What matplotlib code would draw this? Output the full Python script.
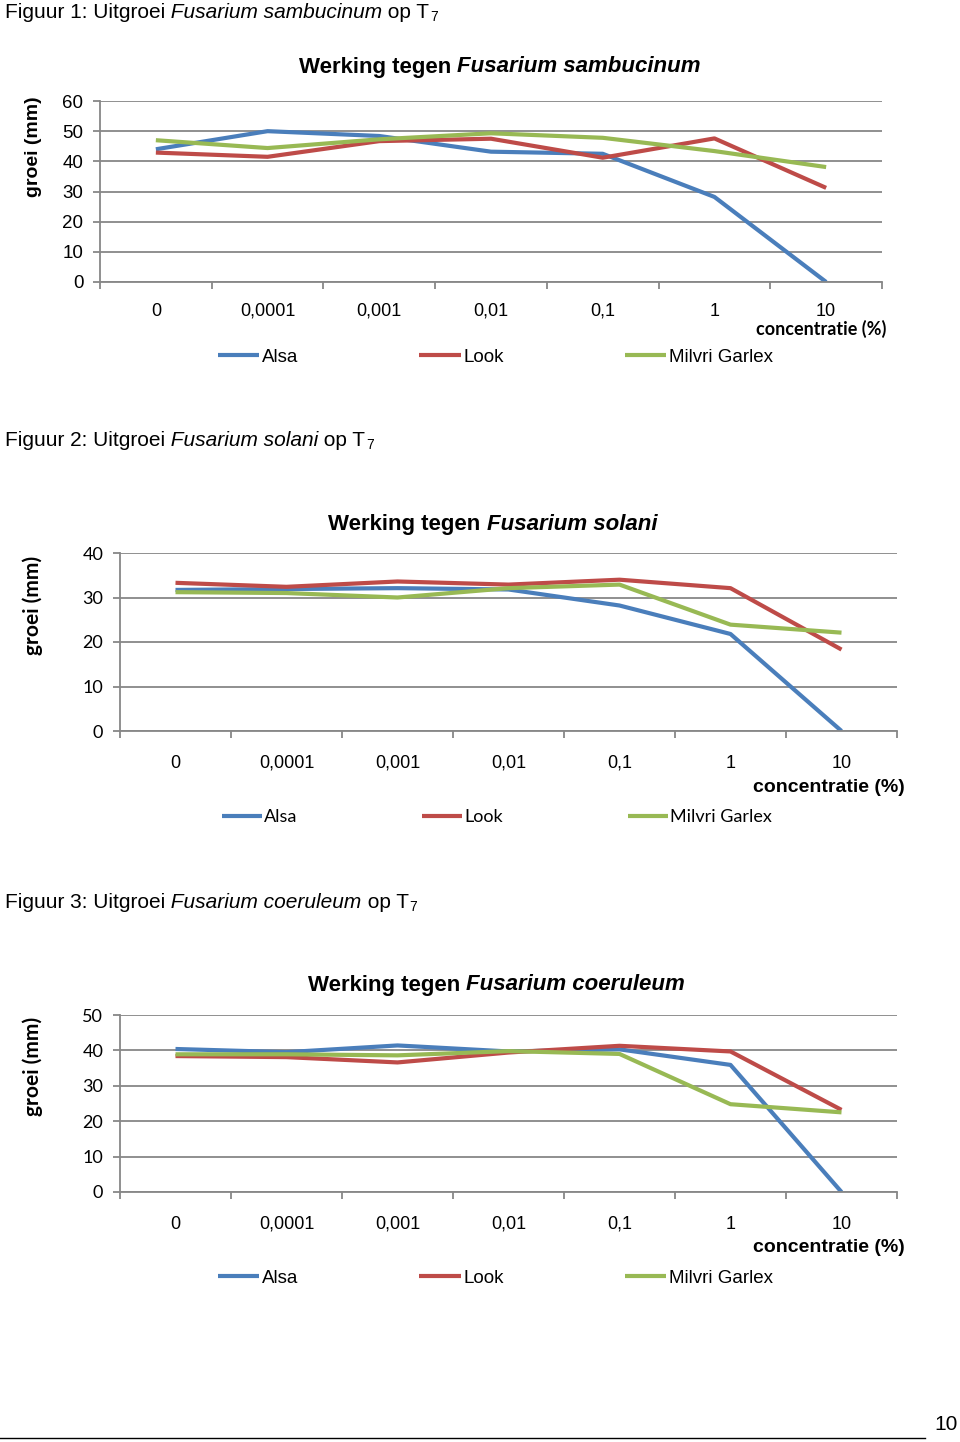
import matplotlib
matplotlib.use("Agg")
from matplotlib import pyplot as plt
from matplotlib.lines import Line2D
from matplotlib.text import Annotation
import numpy as np

categories = ["0", "0,0001", "0,001", "0,01", "0,1", "1", "10"]
series_names = ["Alsa", "Look", "Milvri Garlex"]

# Figuur 1: Fusarium sambucinum
alsa_1 = [44.0, 50.0, 48.4, 43.2, 42.5, 28.2, 0.0]
look_1 = [42.9, 41.5, 46.7, 47.5, 41.2, 47.6, 31.2]
milvri_1 = [47.0, 44.4, 47.3, 49.3, 47.8, 43.4, 38.1]

# Figuur 2: Fusarium solani
alsa_2 = [31.7, 31.9, 32.1, 31.8, 28.2, 21.8, 0.0]
look_2 = [33.3, 32.4, 33.6, 32.9, 34.0, 32.1, 18.3]
milvri_2 = [31.2, 31.0, 30.0, 32.1, 32.9, 23.9, 22.1]

# Figuur 3: Fusarium coeruleum
alsa_3 = [40.4, 39.5, 41.4, 39.7, 40.3, 35.9, 0.0]
look_3 = [38.4, 38.1, 36.6, 39.4, 41.3, 39.7, 23.2]
milvri_3 = [38.9, 38.9, 38.6, 39.8, 39.0, 24.8, 22.5]

colors = ["#4A7EBB", "#BE4B48", "#98B954"]
grid_color = "#878787"

W, H = 960, 1442
fig = plt.figure(figsize=(W / 100, H / 100), dpi=100)

ARIAL = "Liberation Sans"
CALIBRI = "Lato"


def fx(px):
    return px / W


def fy(py):
    return 1 - py / H


def chain(prev, s, xy=(1, 0.5), offset=(0, 0), **kw):
    a = Annotation(s, xy=xy, xycoords=prev, xytext=offset, textcoords="offset points",
                   annotation_clip=False, **kw)
    fig.add_artist(a)
    return a


def caption(y, num, species):
    t0 = fig.text(fx(5), fy(y), "Figuur %s: Uitgroei" % num, fontsize=15,
                  family=ARIAL, va="center", ha="left")
    a = chain(t0, " " + species, fontsize=15, family=ARIAL, style="italic",
              va="center", ha="left")
    b = chain(a, " op T", fontsize=15, family=ARIAL, va="center", ha="left")
    chain(b, "7", xy=(1, 0), offset=(0.5, -1.5), fontsize=10, family=ARIAL,
          va="bottom", ha="left")


def make_chart(rect, series, yticks, title_species, split, title_y,
               ylabel_y, tick_font, tick_size, ylab_size, legend_font, legend_size,
               colspace, legend_x, legend_y, xlab_font, xlab_size, xlab_pos, xpad):
    left, top, right, bottom = rect
    ax = fig.add_axes([fx(left), fy(bottom), fx(right - left), (bottom - top) / H])
    x = np.arange(len(categories))
    for vals, name, c in zip(series, series_names, colors):
        ax.plot(x, vals, color=c, lw=3.0, label=name, solid_capstyle="butt",
                solid_joinstyle="round")
    ax.set_xlim(-0.5, len(categories) - 0.5)
    ax.set_ylim(yticks[0], yticks[-1])
    ax.set_yticks(yticks)
    ax.set_yticklabels([str(v) for v in yticks], family=tick_font, fontsize=tick_size)
    ax.yaxis.grid(True, color=grid_color, lw=1.3)
    ax.set_axisbelow(True)
    ax.set_xticks(x)
    ax.set_xticklabels(categories, family=ARIAL, fontsize=13)
    ax.set_xticks(np.arange(-0.5, len(categories)), minor=True)
    ax.tick_params(axis="x", which="major", length=0, pad=xpad)
    ax.tick_params(axis="x", which="minor", length=5, color=grid_color, width=1.3)
    ax.tick_params(axis="y", length=5, color=grid_color, width=1.3, pad=7)
    for s in ["top", "right"]:
        ax.spines[s].set_visible(False)
    for s in ["left", "bottom"]:
        ax.spines[s].set_color(grid_color)
        ax.spines[s].set_linewidth(1.3)
    ax.patch.set_alpha(0)

    # title: bold part + bold italic species name
    fig.text(fx(split[0]), fy(title_y), "Werking tegen", fontsize=16,
             family=ARIAL, weight="bold", ha="right", va="center")
    fig.text(fx(split[1]), fy(title_y), "Fusarium " + title_species, fontsize=16,
             family=ARIAL, weight="bold", style="italic", ha="left", va="center")

    fig.text(fx(33), fy(ylabel_y), "groei (mm)", rotation=90, fontsize=ylab_size,
             family=tick_font, weight="bold", ha="center", va="center")
    fig.text(fx(xlab_pos[0]), fy(xlab_pos[1]), "concentratie (%)",
             fontsize=xlab_size, family=xlab_font, weight="bold",
             ha="right", va="center")

    ax.legend(loc="center left", bbox_to_anchor=(fx(legend_x), fy(legend_y)),
              bbox_transform=fig.transFigure, ncol=3, frameon=False,
              borderpad=0, borderaxespad=0, handlelength=2.2, handletextpad=0.15,
              columnspacing=colspace, prop={"family": legend_font, "size": legend_size})
    return ax


caption(12, "1", "Fusarium sambucinum")
make_chart((100, 101, 882, 282), [alsa_1, look_1, milvri_1], [0, 10, 20, 30, 40, 50, 60],
           "sambucinum", (451, 457), 67, 147, ARIAL, 13.5, 14, ARIAL, 13.5, 6.45,
           218, 357, CALIBRI, 13, (886, 329), 15)

caption(440, "2", "Fusarium solani")
make_chart((120, 553, 897, 731), [alsa_2, look_2, milvri_2], [0, 10, 20, 30, 40],
           "solani", (480, 487), 524, 605, CALIBRI, 13, 15, CALIBRI, 13, 6.9,
           222, 817, ARIAL, 14, (905, 788), 17)

caption(902, "3", "Fusarium coeruleum")
make_chart((120, 1015, 897, 1192), [alsa_3, look_3, milvri_3], [0, 10, 20, 30, 40, 50],
           "coeruleum", (460, 466), 985, 1066, CALIBRI, 13, 15, ARIAL, 13.5, 6.45,
           218, 1278, ARIAL, 14, (905, 1248), 17)

# page footer
fig.add_artist(Line2D([0, fx(925)], [fy(1438), fy(1438)], color="black", lw=1.0))
fig.text(fx(958), fy(1425), "10", fontsize=15, family=ARIAL, ha="right", va="center")

fig.savefig("out.png", dpi=100)
